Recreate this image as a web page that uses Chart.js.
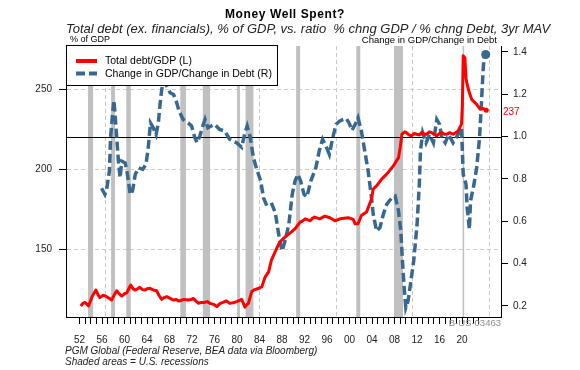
<!DOCTYPE html>
<html>
<head>
<meta charset="utf-8">
<script src="https://cdn.jsdelivr.net/npm/chart.js@4/dist/chart.umd.min.js"></script>
<style>
  html, body { margin: 0; padding: 0; background: #fff; }
  #wrap { width: 580px; height: 370px; position: relative; }
</style>
</head>
<body>
<div id="wrap"><canvas id="c" width="580" height="370"></canvas></div>
<script>
// ---------- DATA ----------
const titleText = 'Money Well Spent?';
const subtitleText = 'Total debt (ex. financials), % of GDP, vs. ratio  % chng GDP / % chng Debt, 3yr MAV';
const leftAxisTitle = '% of GDP';
const rightAxisTitle = 'Change in GDP/Change in Debt';
const sourceLines = ['PGM Global (Federal Reserve, BEA data via Bloomberg)', 'Shaded areas = U.S. recessions'];
const chartCode = 'B-US-03463';

const seriesLabels = ['Total debt/GDP (L)', 'Change in GDP/Change in Debt (R)'];

// Total debt / GDP (left axis, %)
const debtYears = [
  1952.2,1952.6,1953.0,1953.6,1954.2,1954.9,1955.3,1955.6,1956.2,1956.8,1957.3,1957.7,1958.2,1958.6,1959.0,1959.5,
  1960.0,1960.4,1960.8,1961.1,1961.5,1961.9,1962.3,1962.7,1963.2,1963.6,1964.0,1964.5,1965.1,1965.7,1966.1,1966.6,
  1967.0,1967.5,1968.1,1968.7,1969.2,1969.6,1970.0,1970.5,1971.3,1971.8,1972.2,1972.7,1973.1,1973.6,1974.2,1974.7,
  1975.2,1975.8,1976.4,1977.0,1977.5,1978.1,1978.7,1979.3,1979.9,1980.4,1980.8,1981.1,1981.4,1981.7,1982.0,1982.6,
  1983.0,1983.5,1984.0,1984.4,1984.7,1985.0,1985.6,1986.1,1986.9,1987.2,1987.6,1988.5,1989.4,1990.3,1991.2,1991.6,
  1992.1,1992.6,1993.0,1993.4,1993.8,1994.7,1995.6,1996.5,1997.4,1998.3,1999.0,1999.8,2000.3,2000.6,2001.0,2001.5,
  2002.1,2003.0,2003.9,2004.2,2004.8,2005.7,2006.6,2007.8,2008.7,2009.0,2009.3,2009.8,2010.1,2010.6,2011.0,2011.5,
  2011.9,2012.4,2012.8,2013.3,2013.7,2014.2,2014.6,2015.0,2015.5,2016.0,2016.4,2016.9,2017.3,2017.8,2018.4,2018.9,
  2019.3,2019.9,2020.05,2020.2,2020.5,2020.7,2020.9,2021.3,2021.7,2022.2,2022.6,2023.2,2023.8,2024.3
];
const debtValues = [
  114.8,116.5,117.0,114.8,120.6,124.7,121.5,120.0,121.5,120.6,119.5,118.5,122.0,124.3,122.5,121.0,
  122.5,123.0,126.0,127.8,125.5,124.7,125.5,126.4,125.0,124.7,125.5,125.8,124.8,124.3,121.5,118.9,
  120.0,120.6,119.5,118.5,118.8,117.9,118.2,118.9,118.5,118.8,119.5,117.8,116.5,116.9,117.0,117.5,
  116.4,115.8,114.4,116.4,117.0,118.0,116.4,116.8,117.5,118.2,118.9,116.5,114.0,115.5,116.4,123.7,
  124.8,125.4,126.0,126.8,130.0,133.0,136.1,143.4,149.6,152.0,154.7,157.8,160.3,163.0,167.1,167.8,
  169.2,168.5,168.0,169.5,170.3,169.2,170.9,169.9,168.0,169.2,169.6,169.9,169.2,169.0,166.1,166.1,
  171.3,173.4,181.5,187.8,189.8,194.0,197.1,202.3,207.4,213.7,222.0,223.5,223.0,221.5,221.0,222.5,
  222.0,221.5,223.0,222.0,222.0,223.5,223.0,222.0,221.0,222.5,223.0,222.0,222.0,223.0,222.0,223.0,
  224.1,228.3,240.0,271.0,269.6,257.0,253.1,247.9,243.8,242.0,240.7,237.6,238.0,237.0
];

// % chng GDP / % chng Debt, 3yr MAV (right axis, ratio)
const ratioYears = [
  1955.9,1956.5,1956.8,1957.3,1957.5,1957.9,1958.1,1958.3,1958.6,1958.9,1959.2,1959.5,1960.1,1960.5,1961.0,1961.4,
  1961.9,1962.5,1963.2,1963.8,1964.2,1964.6,1965.1,1965.6,1966.0,1966.3,1966.6,1966.9,1967.5,1968.1,1968.7,1969.1,
  1969.7,1970.4,1971.3,1971.9,1972.5,1972.9,1973.4,1974.0,1974.3,1974.8,1975.4,1976.0,1976.9,1977.8,1978.7,1979.9,
  1980.8,1981.4,1981.8,1982.3,1982.9,1983.5,1984.2,1984.7,1985.3,1986.2,1986.8,1987.2,1987.7,1988.0,1988.6,1989.2,
  1989.8,1990.3,1990.8,1991.3,1991.9,1992.4,1993.1,1994.0,1994.6,1995.2,1995.8,1996.4,1997.0,1997.6,1998.2,1998.8,
  1999.4,2000.0,2000.4,2001.0,2001.5,2002.1,2002.7,2003.3,2003.9,2004.2,2004.8,2005.4,2006.0,2006.6,2007.5,2008.1,
  2008.7,2009.1,2009.4,2009.7,2010.0,2010.4,2010.9,2011.4,2012.0,2012.4,2012.6,2013.0,2013.6,2014.2,2014.9,2015.5,
  2016.0,2016.4,2017.0,2017.6,2018.4,2019.3,2019.9,2020.2,2020.7,2020.9,2021.3,2021.5,2022.0,2022.6,2023.1,2023.4,
  2023.7,2023.9,2024.2
];
const ratioValues = [
  0.756,0.727,0.750,0.837,0.994,1.120,1.171,1.105,0.994,0.884,0.806,0.884,0.876,0.822,0.727,0.743,
  0.822,0.853,0.845,0.869,0.947,1.065,1.042,1.010,1.065,1.152,1.223,1.262,1.238,1.207,1.199,1.175,
  1.120,1.081,1.065,1.050,0.994,0.971,1.005,1.058,1.081,1.042,1.050,1.058,1.034,1.026,0.987,0.971,
  0.950,1.018,1.050,1.002,0.900,0.845,0.790,0.711,0.672,0.680,0.640,0.570,0.492,0.460,0.515,0.586,
  0.727,0.790,0.822,0.790,0.727,0.715,0.790,0.853,0.932,0.987,0.955,0.916,0.994,1.058,1.073,1.080,
  1.086,1.060,1.029,1.058,1.089,1.026,0.932,0.837,0.711,0.633,0.554,0.570,0.633,0.680,0.711,0.719,
  0.649,0.554,0.413,0.287,0.192,0.224,0.318,0.413,0.586,0.775,0.932,1.018,0.971,1.010,0.971,1.081,
  1.058,0.994,0.971,1.010,0.971,1.010,1.042,0.822,0.775,0.664,0.562,0.696,0.758,0.853,0.994,1.136,
  1.293,1.380,1.388
];

// U.S. recessions (decimal years)
const recessionStart = [1953.5, 1957.6, 1960.3, 1969.9, 1973.9, 1980.0, 1981.5, 1990.5, 2001.2, 2007.9, 2020.1];
const recessionEnd   = [1954.4, 1958.3, 1961.1, 1970.9, 1975.2, 1980.5, 1982.9, 1991.2, 2001.9, 2009.5, 2020.3];

// Axis ticks
const xTickYears = Array.from({length: 2023 - 1952 + 1}, (_, i) => 1952 + i);
const xLabelYears = [1952,1956,1960,1964,1968,1972,1976,1980,1984,1988,1992,1996,2000,2004,2008,2012,2016,2020];
const xGridYears = [1956.5, 1970.2, 1983.9, 1997.6, 2011.1, 2024.8];
const leftTicks = [150, 200, 250];
const rightTicks = [0.2, 0.4, 0.6, 0.8, 1.0, 1.2, 1.4];
const referenceRatio = 1.0;

// ---------- CHART ----------
const FONT = "'Liberation Sans', Arial, Helvetica, sans-serif";
Chart.defaults.font.family = FONT;
const RED = '#ff0000';
const BLUE = '#386890';

const lastRadius = (r) => (c) => (c.dataIndex === c.dataset.data.length - 1 ? r : 0);

const decor = {
  id: 'decor',
  beforeDatasetsDraw(chart) {
    const { ctx, chartArea: a, scales: { x, y2 } } = chart;
    ctx.save();
    // vertical dashed gridlines
    ctx.strokeStyle = '#c8c8c8';
    ctx.lineWidth = 1;
    ctx.setLineDash([4, 3]);
    xGridYears.forEach(g => {
      const px = Math.round(x.getPixelForValue(g)) + 0.5;
      ctx.beginPath(); ctx.moveTo(px, a.top); ctx.lineTo(px, a.bottom); ctx.stroke();
    });
    ctx.setLineDash([]);
    // recession shading
    ctx.fillStyle = '#c0c0c0';
    recessionStart.forEach((s, i) => {
      const x1 = x.getPixelForValue(s), x2 = x.getPixelForValue(recessionEnd[i]);
      ctx.fillRect(x1, a.top, Math.max(x2 - x1, 1.5), a.bottom - a.top);
    });
    // reference line at ratio 1.0
    const py = Math.round(y2.getPixelForValue(referenceRatio)) + 0.5;
    ctx.strokeStyle = '#000';
    ctx.lineWidth = 1;
    ctx.beginPath(); ctx.moveTo(a.left, py); ctx.lineTo(a.right, py); ctx.stroke();
    ctx.restore();
  },
  afterDatasetsDraw(chart) {
    const { ctx, chartArea: a, scales: { y } } = chart;
    const ds = chart.data.datasets;
    ctx.save();
    // legend box
    const lx = a.left, ly = a.top - 1, lw = 211, lh = 40;
    ctx.fillStyle = '#fff';
    ctx.fillRect(lx, ly, lw, lh);
    ctx.strokeStyle = '#000';
    ctx.lineWidth = 1;
    ctx.strokeRect(lx + 0.5, ly + 0.5, lw, lh);
    ds.forEach((d, i) => {
      const yy = ly + 16 + i * 12.5;
      ctx.strokeStyle = d.borderColor;
      ctx.lineWidth = 4;
      ctx.setLineDash(d.borderDash || []);
      ctx.beginPath(); ctx.moveTo(lx + 10, yy); ctx.lineTo(lx + 31, yy); ctx.stroke();
      ctx.setLineDash([]);
      ctx.fillStyle = '#000';
      ctx.font = '10.5px ' + FONT;
      ctx.textAlign = 'left';
      ctx.textBaseline = 'middle';
      ctx.fillText(d.label, lx + 39, yy + 0.5);
    });
    // last value label for debt
    const lastDebt = debtValues[debtValues.length - 1];
    ctx.fillStyle = RED;
    ctx.font = '10px ' + FONT;
    ctx.textAlign = 'left';
    ctx.textBaseline = 'middle';
    ctx.fillText(String(Math.round(lastDebt)), a.right + 2, y.getPixelForValue(lastDebt) + 2);
    ctx.restore();
  },
  afterDraw(chart) {
    const { ctx, chartArea: a } = chart;
    ctx.save();
    ctx.textBaseline = 'middle';
    // title
    ctx.fillStyle = '#000';
    ctx.font = 'bold 12px ' + FONT;
    ctx.textAlign = 'center';
    if ('letterSpacing' in ctx) ctx.letterSpacing = '0.6px';
    ctx.fillText(titleText, 285, 15);
    if ('letterSpacing' in ctx) ctx.letterSpacing = '0px';
    // subtitle
    ctx.fillStyle = '#222';
    ctx.font = 'italic 13px ' + FONT;
    ctx.textAlign = 'left';
    ctx.fillText(subtitleText, a.left, 29);
    // axis titles
    ctx.font = '9px ' + FONT;
    ctx.fillStyle = '#000';
    ctx.fillText(leftAxisTitle, a.left + 4, 40);
    ctx.textAlign = 'right';
    ctx.font = '9.5px ' + FONT;
    ctx.fillText(rightAxisTitle, a.right - 4, 40);
    // chart code
    ctx.fillStyle = '#8c8c8c';
    ctx.font = '9.5px ' + FONT;
    ctx.fillText(chartCode, a.right, a.bottom + 6);
    // sources
    ctx.fillStyle = '#222';
    ctx.textAlign = 'left';
    ctx.font = 'italic 10px ' + FONT;
    sourceLines.forEach((t, i) => ctx.fillText(t, a.left - 1, 351 + i * 11));
    ctx.restore();
  }
};

new Chart(document.getElementById('c'), {
  type: 'line',
  data: {
    datasets: [
      {
        label: seriesLabels[0],
        data: debtYears.map((x, i) => ({ x, y: debtValues[i] })),
        yAxisID: 'y',
        borderColor: RED,
        backgroundColor: RED,
        borderWidth: 3,
        borderJoinStyle: 'round',
        pointRadius: lastRadius(2.5),
        pointBorderWidth: 0,
        tension: 0
      },
      {
        label: seriesLabels[1],
        data: ratioYears.map((x, i) => ({ x, y: ratioValues[i] })),
        yAxisID: 'y2',
        borderColor: BLUE,
        backgroundColor: BLUE,
        borderWidth: 3.5,
        borderDash: [9, 4],
        pointRadius: lastRadius(4.5),
        pointBorderWidth: 0,
        tension: 0
      }
    ]
  },
  options: {
    responsive: false,
    animation: false,
    devicePixelRatio: 1,
    layout: { padding: { top: 46, left: 0, right: 0, bottom: 0 } },
    plugins: {
      legend: { display: false },
      title: { display: false },
      tooltip: { enabled: false }
    },
    scales: {
      x: {
        type: 'linear',
        min: 1949.58,
        max: 2026.92,
        afterBuildTicks: s => { s.ticks = xTickYears.map(v => ({ value: v })); },
        afterFit: s => { s.height = 53; },
        ticks: {
          autoSkip: false,
          maxRotation: 0,
          padding: 10,
          color: '#222',
          font: { size: 10 },
          callback: v => (xLabelYears.includes(v) ? String(v % 100).padStart(2, '0') : '')
        },
        grid: { drawOnChartArea: false, tickLength: 7, tickColor: '#000', tickWidth: 1 },
        border: { color: '#000', width: 1 }
      },
      y: {
        position: 'left',
        min: 107.9,
        max: 277.1,
        afterBuildTicks: s => { s.ticks = leftTicks.map(v => ({ value: v })); },
        afterFit: s => { s.width = 66; },
        ticks: { padding: 7, color: '#222', font: { size: 10 } },
        grid: { color: '#cccccc', lineWidth: 1, tickColor: '#000', tickLength: 7 },
        border: { color: '#000', width: 1, dash: [4, 3] }
      },
      y2: {
        position: 'right',
        min: 0.148,
        max: 1.428,
        afterBuildTicks: s => { s.ticks = rightTicks.map(v => ({ value: v })); },
        afterFit: s => { s.width = 79; },
        ticks: { padding: 5, color: '#222', font: { size: 10 }, callback: v => Number(v).toFixed(1) },
        grid: { drawOnChartArea: false, tickColor: '#000', tickLength: 7 },
        border: { color: '#000', width: 1 }
      }
    }
  },
  plugins: [decor]
});
</script>
</body>
</html>
